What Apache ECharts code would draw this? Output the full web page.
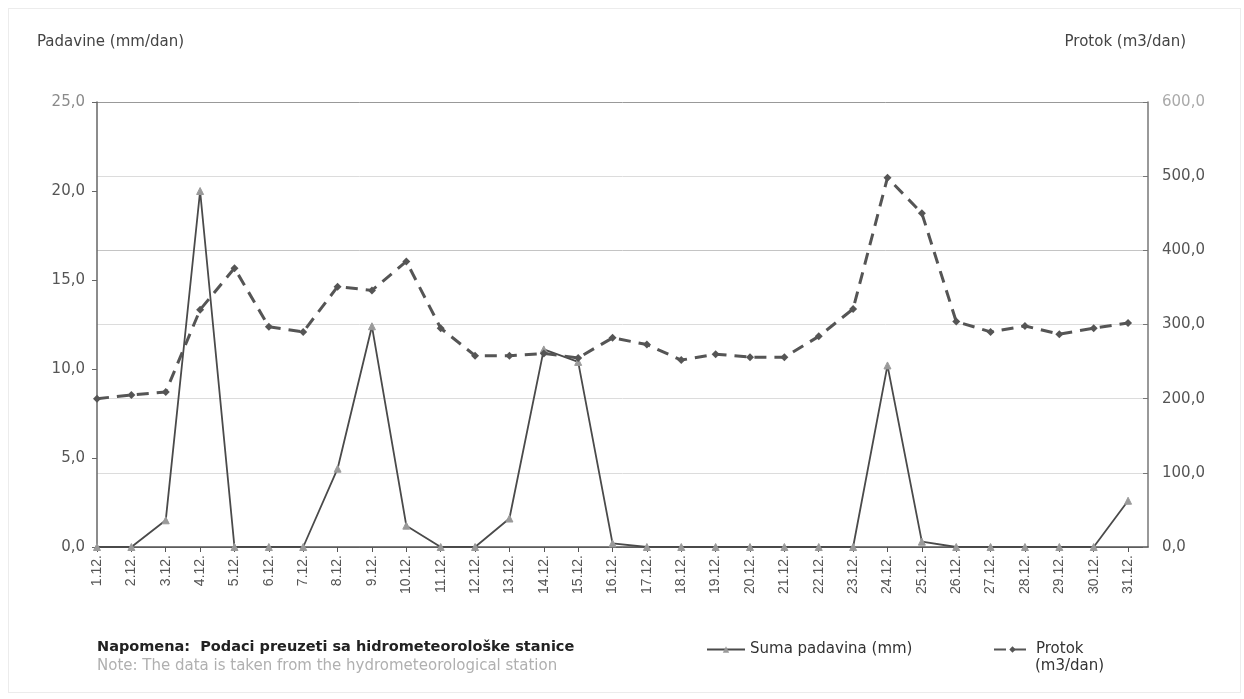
<!DOCTYPE html>
<html>
<head>
<meta charset="utf-8">
<script src="https://cdn.jsdelivr.net/npm/echarts@6/dist/echarts.min.js"></script>
<style>
html,body{margin:0;padding:0;background:#fff;}
#frame{position:absolute;left:8px;top:8px;width:1231px;height:683px;border:1px solid #ececec;}
#chart{position:absolute;left:0;top:0;width:1244px;height:699px;}
</style>
</head>
<body>
<div id="frame"></div>
<div id="chart"></div>
<script>
const categories = ['1.12.','2.12.','3.12.','4.12.','5.12.','6.12.','7.12.','8.12.','9.12.','10.12.',
  '11.12.','12.12.','13.12.','14.12.','15.12.','16.12.','17.12.','18.12.','19.12.','20.12.',
  '21.12.','22.12.','23.12.','24.12.','25.12.','26.12.','27.12.','28.12.','29.12.','30.12.','31.12.'];
const rainfall = [0,0,1.5,20.0,0,0,0,4.4,12.4,1.2,
  0,0,1.6,11.1,10.4,0.2,0,0,0,0,
  0,0,0,10.2,0.3,0,0,0,0,0,2.6];
const discharge = [200,205,209,320,376,297,290,351,346,385,
  295,258,258,261,255,282,273,252,260,256,
  256,284,321,498,450,304,290,298,287,295,302];
const leftTicks = {min:0, max:25, step:5};
const rightTicks = {min:0, max:600, step:100};

const fmt = v => v.toFixed(1).replace('.', ',');
const chart = echarts.init(document.getElementById('chart'));
const FONT = 'DejaVu Sans';
chart.setOption({
  animation:false,
  backgroundColor:'transparent',
  grid:{left:97, right:96, top:102, bottom:152, containLabel:false},
  xAxis:{
    type:'value', min:0, max:30.58, interval:1,
    axisLine:{show:true, lineStyle:{color:'#555', width:1.5}},
    axisTick:{show:true, length:5, lineStyle:{color:'#555'}},
    splitLine:{show:false},
    axisLabel:{rotate:90, margin:8, fontFamily:'Liberation Sans', fontSize:14, color:'#555',
      showMaxLabel:false,
      formatter:v => Number.isInteger(v) && categories[v] ? categories[v] : ''}
  },
  yAxis:[
    {type:'value', min:leftTicks.min, max:leftTicks.max, interval:leftTicks.step, position:'left',
     axisLine:{show:true, lineStyle:{color:'#666', width:1.5}},
     axisTick:{show:true, length:5, lineStyle:{color:'#666'}},
     splitLine:{show:false},
     axisLabel:{margin:12, fontFamily:FONT, fontSize:15, formatter:fmt,
       color:(v)=> (+v===leftTicks.max ? '#8a8a8a' : '#555')}},
    {type:'value', min:rightTicks.min, max:rightTicks.max, interval:rightTicks.step, position:'right',
     axisLine:{show:true, lineStyle:{color:'#777', width:1.5}},
     axisTick:{show:true, length:5, inside:true, lineStyle:{color:'#777'}},
     splitLine:{show:true, lineStyle:{color:['#777','#dcdcdc','#dcdcdc','#dcdcdc','#c4c4c4','#dcdcdc','#999'], width:1}},
     axisLabel:{margin:14, fontFamily:FONT, fontSize:15, formatter:fmt,
       color:(v)=> (+v===rightTicks.max ? '#aaa' : '#555')}}
  ],
  legend:[
    {left:706, top:642, padding:0, itemWidth:38, itemHeight:8,
     data:[{name:'Suma padavina (mm)'}], selectedMode:false,
     textStyle:{fontFamily:FONT, fontSize:15, color:'#333'}},
    {left:993, top:642, padding:0, itemWidth:37, itemHeight:8,
     data:[{name:'Protok (m3/dan)'}], selectedMode:false,
     formatter:()=> 'Protok',
     textStyle:{fontFamily:FONT, fontSize:15, color:'#333'}}
  ],
  graphic:[
    {type:'text', left:37, top:35, style:{text:'Padavine (mm/dan)', font:'15px "DejaVu Sans"', fill:'#444'}},
    {type:'text', right:58, top:35, style:{text:'Protok (m3/dan)', font:'15px "DejaVu Sans"', fill:'#444'}},
    {type:'text', left:1035, top:659, style:{text:'(m3/dan)', font:'15px "DejaVu Sans"', fill:'#333'}},
    {type:'text', left:97, top:640, style:{text:'Napomena:  Podaci preuzeti sa hidrometeorološke stanice', font:'bold 14.5px "DejaVu Sans"', fill:'#222'}},
    {type:'text', left:97, top:659, style:{text:'Note: The data is taken from the hydrometeorological station', font:'15px "DejaVu Sans"', fill:'#b0b0b0'}}
  ],
  series:[
    {name:'Suma padavina (mm)', type:'line', yAxisIndex:0,
     data:rainfall.map((v,i)=>[i,v]),
     symbol:'triangle', symbolSize:7, showAllSymbol:true,
     lineStyle:{color:'#4a4a4a', width:1.8},
     itemStyle:{color:'#9a9a9a', borderColor:'#9a9a9a'}, z:3},
    {name:'Protok (m3/dan)', type:'line', yAxisIndex:1,
     data:discharge.map((v,i)=>[i,v]),
     symbol:'diamond', symbolSize:8, showAllSymbol:true,
     lineStyle:{color:'#555', width:3, type:[12,8]},
     itemStyle:{color:'#555'}, z:4}
  ]
});
</script>
</body>
</html>
